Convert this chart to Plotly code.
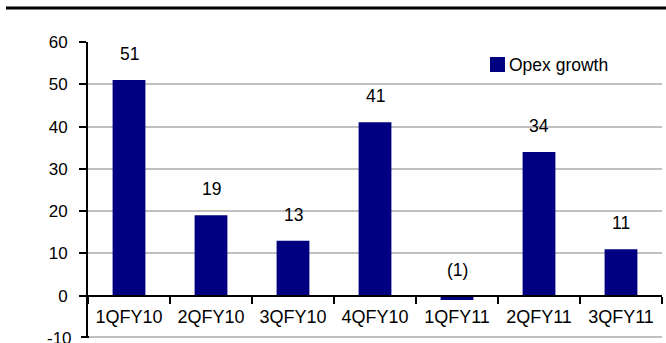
import plotly.graph_objects as go

# Quarterly opex growth (%)
quarters = ["1QFY10", "2QFY10", "3QFY10", "4QFY10", "1QFY11", "2QFY11", "3QFY11"]
opex_growth = [51, 19, 13, 41, -1, 34, 11]
series_name = "Opex growth"
y_ticks = [-10, 0, 10, 20, 30, 40, 50, 60]

FONT = "Liberation Sans, Arial, sans-serif"
NAVY = "#000080"

W, H = 666, 343
ML, MR, MT, MB = 88, 4, 42, 5
PW, PH = W - ML - MR, H - MT - MB


def px_to_paper_x(px):
    return (px - ML) / PW


def px_to_paper_y(py):
    return 1 - (py - MT) / PH


def fmt(v):
    return f"({abs(v):.0f})" if v < 0 else f"{v:.0f}"


# value axis runs from the lowest to the highest tick
y_min, y_max = y_ticks[0], y_ticks[-1]

fig = go.Figure()
fig.add_trace(go.Bar(
    x=quarters, y=opex_growth, name=series_name,
    marker=dict(color=NAVY, line=dict(width=0)),
    showlegend=False,
))

# value labels sit above the bar top (or above the zero line for negatives)
annotations = []
for q, v in zip(quarters, opex_growth):
    annotations.append(dict(
        x=q, y=max(v, 0), xref="x", yref="y",
        text=fmt(v), showarrow=False,
        xanchor="center", yanchor="bottom", yshift=14,
        font=dict(family=FONT, size=17.5, color="black"),
    ))

# legend entry
annotations.append(dict(
    x=px_to_paper_x(507), y=px_to_paper_y(64.5), xref="paper", yref="paper",
    text=series_name, showarrow=False, xanchor="left", yanchor="middle",
    font=dict(family=FONT, size=17.5, color="black"),
))

# lowest tick label sits on the bottom edge of the plot area
annotations.append(dict(
    x=0, y=0, xref="paper", yref="paper",
    text=f"{y_min}", showarrow=False,
    xanchor="right", yanchor="middle", xshift=-14,
    font=dict(family=FONT, size=17, color="black"),
))

shapes = [
    dict(type="rect", xref="paper", yref="paper",
         x0=px_to_paper_x(490), x1=px_to_paper_x(505),
         y0=px_to_paper_y(72), y1=px_to_paper_y(57),
         fillcolor=NAVY, line=dict(width=0)),
    # rule across the top of the page
    dict(type="line", xref="paper", yref="paper",
         x0=px_to_paper_x(6), x1=px_to_paper_x(666),
         y0=px_to_paper_y(8), y1=px_to_paper_y(8),
         line=dict(color="black", width=3)),
    # gridline and tick for the lowest value (bottom edge of the plot area)
    dict(type="line", xref="paper", yref="paper",
         x0=0, x1=1, ysizemode="pixel", yanchor=0, y0=1, y1=1,
         line=dict(color="#c0c0c0", width=2), layer="above"),
    dict(type="line", xref="paper", yref="paper",
         xsizemode="pixel", xanchor=0, x0=-7, x1=1,
         ysizemode="pixel", yanchor=0, y0=1, y1=1,
         line=dict(color="black", width=2), layer="above"),
]

fig.update_layout(
    width=W, height=H,
    margin=dict(l=ML, r=MR, t=MT, b=MB, pad=0),
    paper_bgcolor="white", plot_bgcolor="white",
    bargap=0.6,
    annotations=annotations, shapes=shapes,
    font=dict(family=FONT, size=17, color="black"),
    xaxis=dict(
        type="category",
        anchor="free", position=(0 - y_min) / (y_max - y_min),
        showline=True, linecolor="black", linewidth=2,
        ticks="outside", tickson="boundaries", ticklen=7, tickwidth=2, tickcolor="black",
        ticklabelstandoff=5,
        showgrid=False, zeroline=False,
        tickfont=dict(family=FONT, size=18, color="black"),
    ),
    yaxis=dict(
        range=[y_min, y_max], tickvals=y_ticks[1:],
        showline=True, linecolor="black", linewidth=2,
        ticks="outside", ticklen=7, tickwidth=2, tickcolor="black",
        ticklabelstandoff=8,
        showgrid=True, gridcolor="#c0c0c0", gridwidth=2,
        zeroline=False,
        tickfont=dict(family=FONT, size=17, color="black"),
    ),
)

fig.write_html("out.html")
